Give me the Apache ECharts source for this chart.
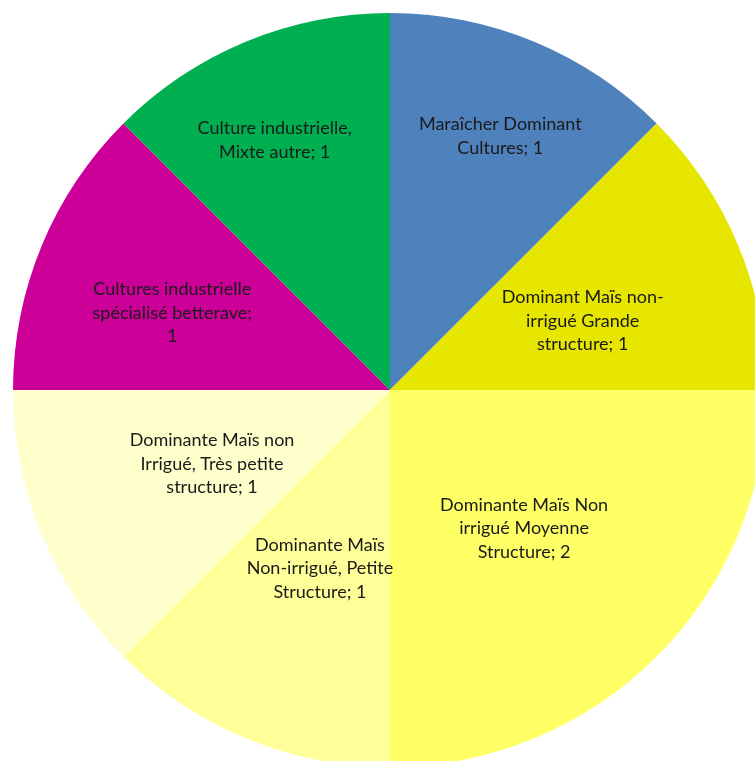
<!DOCTYPE html>
<html>
<head>
<meta charset="utf-8">
<script src="https://cdn.jsdelivr.net/npm/echarts@6/dist/echarts.min.js"></script>
<style>
  html, body { margin: 0; padding: 0; background: #fff; }
  #main { width: 755px; height: 761px; }
</style>
</head>
<body>
<div id="main"></div>
<script>
// clockwise from 12 o'clock
const names = [
  'Maraîcher Dominant\nCultures',
  'Dominant Maïs non-\nirrigué Grande\nstructure',
  'Dominante Maïs Non\nirrigué Moyenne\nStructure',
  'Dominante Maïs\nNon-irrigué, Petite\nStructure',
  'Dominante Maïs non\nIrrigué, Très petite\nstructure',
  'Cultures industrielle\nspécialisé betterave',
  'Culture industrielle,\nMixte autre'
]
const values = [1, 1, 2, 1, 1, 1, 1]
const colors = ['#4F81BD', '#E6E600', '#FFFF66', '#FFFF99', '#FFFFCC', '#CC0099', '#00B050']
// label placement: share of radius, and turn (degrees) from the slice's middle
const labelRadius = [0.726, 0.535, 0.503, 0.501, 0.503, 0.605, 0.722]
const labelTurn = [-1, -2.8, -0.9, 1.1, 0, 3, 2.3]

const R = 377
const total = values.reduce((a, b) => a + b, 0)
const midAngles = []
let acc = 0
values.forEach(v => {
  midAngles.push(90 - (acc + v / 2) / total * 360)
  acc += v
})

const chart = echarts.init(document.getElementById('main'))
chart.setOption({
  animation: false,
  series: [{
    type: 'pie',
    center: [390, 390],
    radius: R,
    startAngle: 90,
    clockwise: true,
    silent: true,
    itemStyle: { borderWidth: 0 },
    label: {
      position: 'inside',
      color: '#1a1a1a',
      fontFamily: 'Lato',
      fontSize: 18,
      lineHeight: 23.5,
      align: 'center',
      formatter: p => {
        const last = p.name.split('\n').pop()
        return p.name + ';' + (last.length > 18 ? '\n' : ' ') + p.value
      }
    },
    labelLayout: p => {
      const i = p.dataIndex
      const m = midAngles[i] * Math.PI / 180
      const t = (midAngles[i] + labelTurn[i]) * Math.PI / 180
      const r0 = 0.5 * R, r1 = labelRadius[i] * R
      return {
        dx: r1 * Math.cos(t) - r0 * Math.cos(m),
        dy: -(r1 * Math.sin(t) - r0 * Math.sin(m))
      }
    },
    data: names.map((n, i) => ({ name: n, value: values[i], itemStyle: { color: colors[i] } }))
  }]
})
</script>
</body>
</html>
